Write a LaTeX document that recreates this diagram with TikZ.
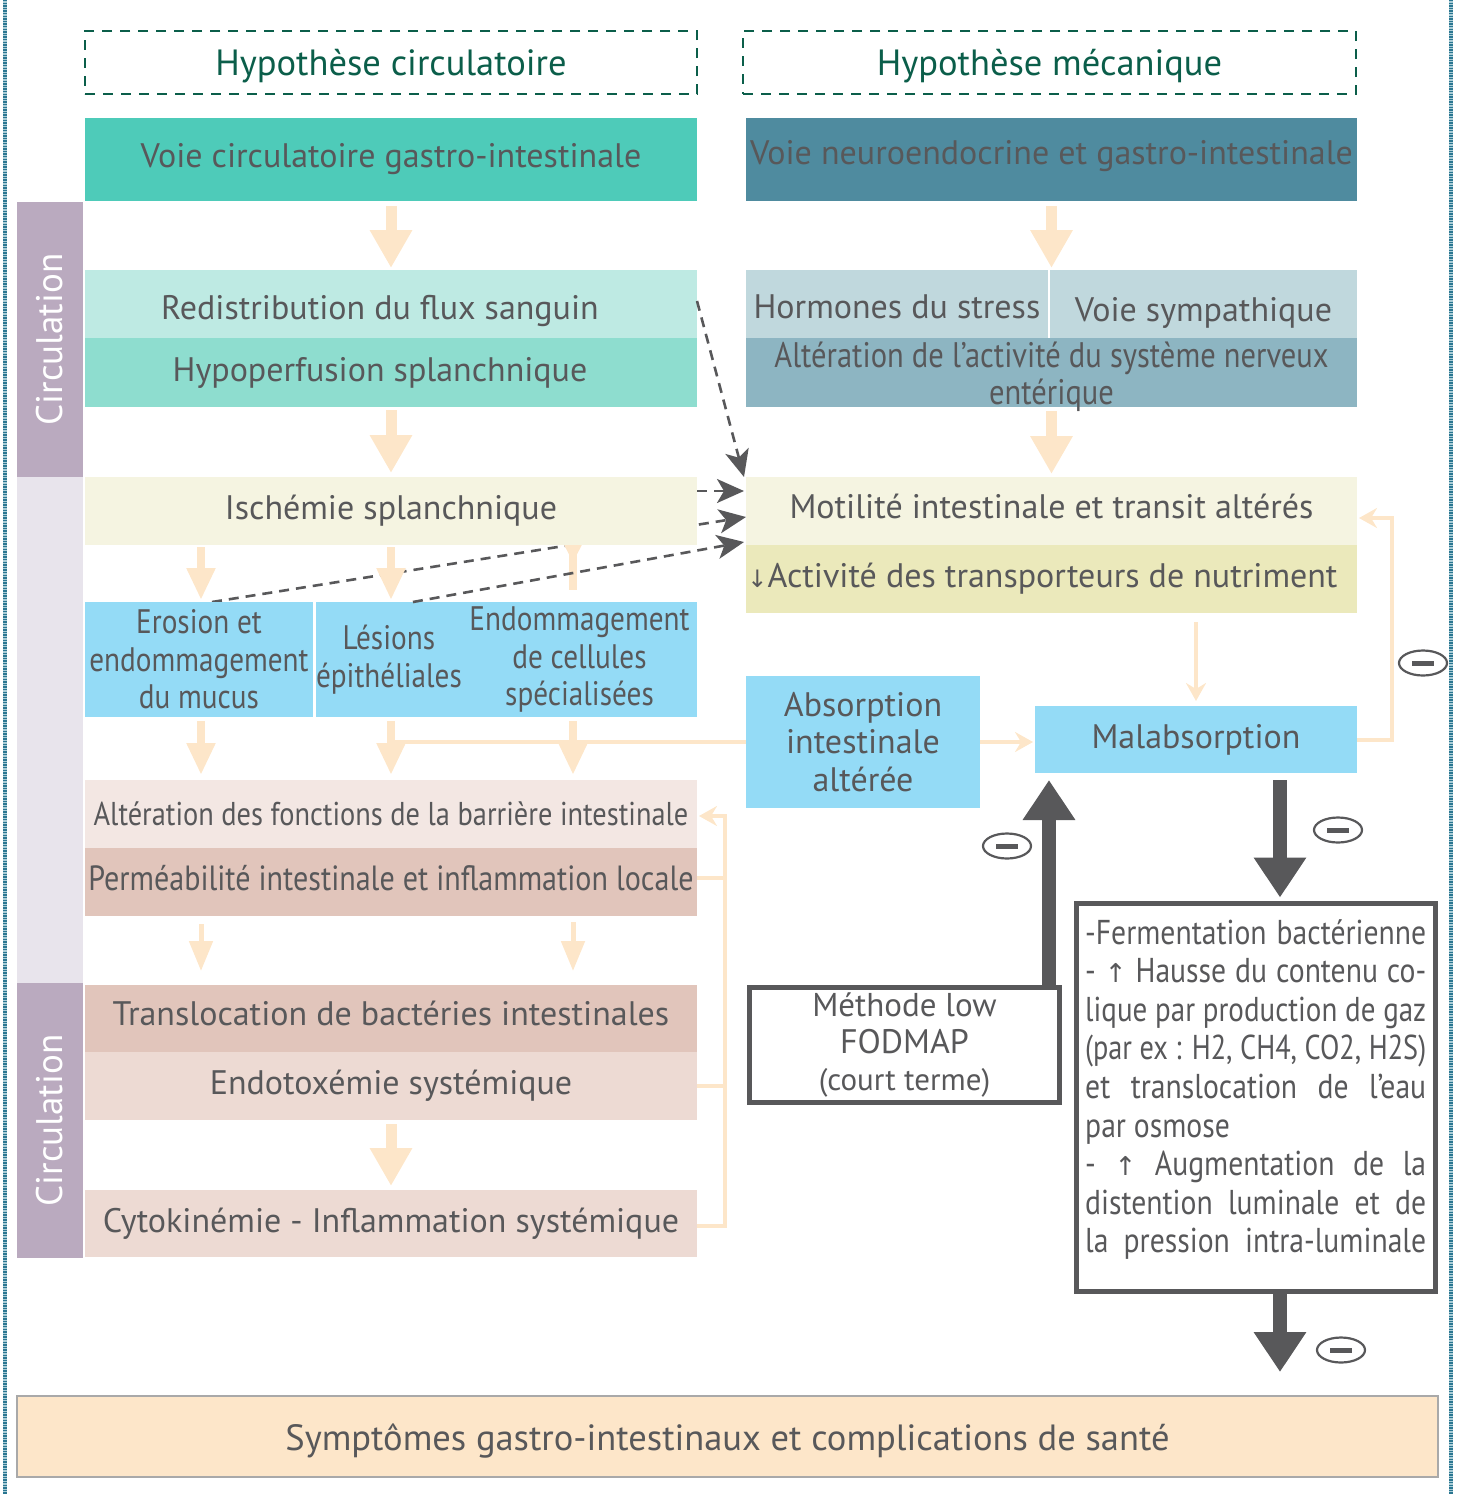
\documentclass[tikz,border=0pt]{standalone}
\usepackage{fontspec}
\setmainfont{PT Sans}
\newfontfamily\condf[FakeStretch=0.86]{PT Sans}
\newfontfamily\symf{DejaVu Sans}
\usetikzlibrary{arrows.meta,shapes.geometric,backgrounds,calc}
\definecolor{cTeal}{HTML}{4ECBB9}
\definecolor{cNavy}{HTML}{4F8B9F}
\definecolor{cRedis}{HTML}{BEEAE3}
\definecolor{cHypo}{HTML}{8EDDCF}
\definecolor{cHorm}{HTML}{C0D8DD}
\definecolor{cEns}{HTML}{8DB5C2}
\definecolor{cIsch}{HTML}{F5F4E1}
\definecolor{cAct}{HTML}{EBE9BB}
\definecolor{cBlue}{HTML}{94DBF6}
\definecolor{cBarr}{HTML}{F3E7E3}
\definecolor{cPerm}{HTML}{E1C5BB}
\definecolor{cEndo}{HTML}{EDDAD3}
\definecolor{cPeach}{HTML}{FDE6C9}
\definecolor{cSymB}{HTML}{A9A9A9}
\definecolor{cPurple}{HTML}{BAAABF}
\definecolor{cLav}{HTML}{E8E4EC}
\definecolor{cDark}{HTML}{58585A}
\definecolor{cGreen}{HTML}{0B5E4A}
\definecolor{cTxt}{HTML}{58585A}
\definecolor{cEdgeA}{HTML}{2A7691}
\definecolor{cEdgeB}{HTML}{A9CCD6}
\newsavebox\jlbox
\newcommand\jl[1]{\sbox\jlbox{#1}%
  \ifdim\wd\jlbox>341pt\relax
    \pgfmathsetmacro\jlsx{341pt/\the\wd\jlbox}\scalebox{\jlsx}[1]{\usebox\jlbox}%
  \else\makebox[341pt][s]{#1}\fi}
\newcommand\shft[2]{\raisebox{#1}[\height][\depth]{#2}}
\newcommand\upar{{\symf\fontsize{26}{26}\selectfont ↑}}
\newcommand\dnar{{\symf\fontsize{24}{24}\selectfont ↓}}
\begin{document}
\begin{tikzpicture}[x=1pt,y=-1pt,
  bx/.style={inner sep=0pt, outer sep=0pt, anchor=north west, align=center, text=cTxt,
     font=\fontsize{34}{37.5}\selectfont},
  cbx/.style={bx, font=\condf\fontsize{34}{37.5}\selectfont},
  hdr/.style={bx, draw=cGreen, dash pattern=on 10pt off 8pt, line width=2.5pt, text=cGreen,
     font=\fontsize{36.5}{40}\selectfont, minimum width=612pt, minimum height=63pt},
  side/.style={bx, minimum width=66pt, text=white, font=\fontsize{37}{40}\selectfont},
  pkbig/.style={draw=cPeach, line width=11pt, -{Triangle[width=40pt,length=38pt]}},
  pksm/.style={draw=cPeach, line width=8pt, -{Triangle[width=27pt,length=32pt]}},
  pkthin/.style={draw=cPeach, line width=5pt, -{Triangle[width=23pt,length=30pt]}},
  pkline/.style={draw=cPeach, line width=4pt},
  pkfb/.style={pkline, -{Stealth[width=20pt,length=18pt,inset=6pt]}},
  dkarrow/.style={draw=cDark, line width=14pt, -{Triangle[width=50pt,length=40pt]}},
  dkdash/.style={draw=cDark, line width=2.6pt, dash pattern=on 10pt off 7pt,
     -{Stealth[width=24pt,length=27pt,inset=7pt]}},
  minus/.style={ellipse, draw=cDark, line width=2.2pt, minimum width=48pt, minimum height=25pt,
     inner sep=0pt, path picture={\fill[cDark] ($(path picture bounding box.center)+(-11,-2.5)$) rectangle ++(22,5);}}
]
\path[use as bounding box] (0,0) rectangle (1459,1494);
% edge stripes
\foreach \xx in {5,1451}{
  \draw[cEdgeB, line width=4pt] (\xx,0) -- (\xx,1494);
  \draw[cEdgeA, line width=4pt, dash pattern=on 1.3pt off 1.3pt] (\xx,0) -- (\xx,1494);
}
% headers
\node[hdr] (h1) at (85,31) {\shft{-4pt}{Hypothèse circulatoire}};
\node[hdr, minimum width=613pt] (h2) at (743,31) {\shft{-4pt}{Hypothèse mécanique}};
% side bars
\node[side, fill=cPurple, minimum height=275pt] (s1) at (17,202) {\rotatebox{90}{Circulation}};
\node[side, fill=cLav, minimum height=506pt] (s2) at (17,477) {};
\node[side, fill=cPurple, minimum height=275pt] (s3) at (17,983) {\rotatebox{90}{Circulation}};
% left column
\node[bx, fill=cTeal, minimum width=612pt, minimum height=83pt] (vcg) at (85,118) {Voie circulatoire gastro-intestinale};
\node[bx, fill=cRedis, minimum width=612pt, minimum height=68pt] (redis) at (85,270) {\shft{-7pt}{Redistribution du flux sanguin}\hspace*{22pt}};
\node[bx, fill=cHypo, minimum width=612pt, minimum height=69pt] (hypo) at (85,338) {Hypoperfusion splanchnique\hspace*{22pt}};
\node[bx, fill=cIsch, minimum width=612pt, minimum height=68pt] (isch) at (85,477) {Ischémie splanchnique};
\node[cbx, fill=cBlue, minimum width=228pt, minimum height=115pt] (ero) at (85,602) {Erosion et\\endommagement\\du mucus};
\node[cbx, fill=cBlue, minimum width=144pt, minimum height=115pt] (les) at (316,602) {Lésions\\épithéliales};
\node[cbx, fill=cBlue, minimum width=235pt, minimum height=115pt] (endm) at (462,602) {Endommagement\\de cellules\\spécialisées};
\node[cbx, fill=cBarr, minimum width=612pt, minimum height=68pt, font=\condf\fontsize{33}{37}\selectfont] (barr) at (85,780) {Altération des fonctions de la barrière intestinale};
\node[cbx, fill=cPerm, minimum width=612pt, minimum height=68pt, font=\condf\fontsize{35}{37}\selectfont] (perm) at (85,848) {\shft{4pt}{Perméabilité intestinale et inflammation locale}};
\node[bx, fill=cPerm, minimum width=612pt, minimum height=67pt] (trans) at (85,985) {\shft{5pt}{Translocation de bactéries intestinales}};
\node[bx, fill=cEndo, minimum width=612pt, minimum height=68pt] (endo) at (85,1052) {Endotoxémie systémique};
\node[bx, fill=cEndo, minimum width=612pt, minimum height=67pt] (cyto) at (85,1190) {Cytokinémie - Inflammation systémique};
% right column
\node[bx, fill=cNavy, minimum width=611pt, minimum height=83pt] (vne) at (746,118) {\shft{3pt}{Voie neuroendocrine et gastro-intestinale}};
\node[bx, fill=cHorm, minimum width=302pt, minimum height=68pt] (horm) at (746,270) {\shft{-3pt}{Hormones du stress}};
\node[bx, fill=cHorm, minimum width=307pt, minimum height=68pt] (vsym) at (1050,270) {\shft{-9pt}{Voie sympathique}};
\node[cbx, fill=cEns, minimum width=611pt, minimum height=69pt, font=\condf\fontsize{35.5}{37}\selectfont] (ens) at (746,338) {\raisebox{-12pt}[30pt][30pt]{\begin{tabular}{@{}c@{}}Altération de l’activité du système nerveux\\entérique\end{tabular}}};
\node[bx, fill=cIsch, minimum width=611pt, minimum height=68pt] (mot) at (746,477) {\shft{5pt}{Motilité intestinale et transit altérés}};
\node[bx, fill=cAct, minimum width=611pt, minimum height=68pt] (act) at (746,545) {\dnar Activité des transporteurs de nutriment\hspace*{18pt}};
\node[bx, fill=cBlue, minimum width=234pt, minimum height=132pt] (abs) at (746,676) {Absorption\\intestinale\\altérée};
\node[bx, fill=cBlue, minimum width=322pt, minimum height=67pt] (mal) at (1035,706) {Malabsorption};
\node[bx, draw=cDark, line width=5pt, fill=white, minimum width=310pt, minimum height=115pt, font=\fontsize{33}{37}\selectfont] (fod) at (749.5,987.5) {Méthode low\\{\fontsize{34}{37}\selectfont FODMAP}\\{\fontsize{31}{37}\selectfont (court terme)}};
\node[bx, draw=cDark, line width=5pt, fill=white, minimum width=359pt, minimum height=388pt] (ferm) at (1076.5,903.5) {};
\node[inner sep=0pt, anchor=north west, align=left, text=cTxt, font=\condf\fontsize{34.5}{38.6}\selectfont] (fermtxt) at (1085,919) {%
\jl{-Fermentation bactérienne}\\
\jl{- \upar{} Hausse du contenu co-}\\
\jl{lique par production de gaz}\\
\jl{(par ex : H2, CH4, CO2, H2S)}\\
\jl{et translocation de l’eau}\\
par osmose\\
\jl{- \upar{} Augmentation de la}\\
\jl{distention luminale et de}\\
\jl{la pression intra-luminale}};
% bottom
\node[bx, fill=cPeach, draw=cSymB, line width=2pt, minimum width=1421pt, minimum height=81pt, font=\fontsize{36.5}{40}\selectfont] (sym) at (17,1396) {\shft{-4pt}{Symptômes gastro-intestinaux et complications de santé}};
% coordinates
\coordinate (xa) at (1280,0);
\coordinate (xb) at (1049,0);
\coordinate (xc) at (573,0);
\coordinate (xd) at (201,0);
\coordinate (xe) at (391,0);
% background connectors (partly hidden under boxes)
\begin{pgfonlayer}{background}
\draw[dkdash] ([xshift=13pt]ero.north) -- ([yshift=-6pt]mot.west);
\fill[cPeach] ($(isch.south -| xc)+(-4,0)$) rectangle ($(ero.north -| xc)+(4,-12)$);
\fill[cPeach] ($(isch.south -| xc)+(-13,-8)$) -- ($(isch.south -| xc)+(13,-8)$) -- ($(isch.south -| xc)+(0,17)$) -- cycle;
\end{pgfonlayer}
% dashed dark arrows
\draw[dkdash] ([yshift=3pt]redis.east) -- ([xshift=-2pt]mot.north west);
\draw[dkdash] ([yshift=20pt]isch.east) -- ([yshift=20pt,xshift=-2pt]mot.west);
\draw[dkdash] ([xshift=24pt]les.north) -- ([xshift=-2pt,yshift=3pt]mot.south west);
% peach big arrows
\draw[pkbig, shorten <=5pt, shorten >=2pt] (vcg.south -| xe) -- (redis.north -| xe);
\draw[pkbig, shorten <=3pt, shorten >=4pt] (hypo.south -| xe) -- (isch.north -| xe);
\draw[pkbig, shorten <=5pt, shorten >=2pt] (vne.south) -- (vne.south |- horm.north);
\draw[pkbig, shorten <=4pt, shorten >=3pt] (ens.south) -- (ens.south |- mot.north);
\draw[pkbig, shorten <=4pt, shorten >=4pt] (endo.south -| xe) -- (cyto.north -| xe);
% peach small arrows
\draw[pksm, shorten <=2pt, shorten >=2pt] (isch.south -| xd) -- (ero.north -| xd);
\draw[pksm, shorten <=2pt, shorten >=2pt] (isch.south -| xe) -- (les.north -| xe);
\draw[pksm, shorten <=4pt, shorten >=5pt] (ero.south -| xd) -- (barr.north -| xd);
\draw[pksm, shorten <=4pt, shorten >=5pt] (les.south -| xe) -- (barr.north -| xe);
\draw[pksm, shorten <=4pt, shorten >=5pt] (endm.south -| xc) -- (barr.north -| xc);
\draw[pkline] (abs.west) -- (abs.west -| xe);
\draw[pkthin, shorten <=8pt, shorten >=14pt] (perm.south -| xd) -- (trans.north -| xd);
\draw[pkthin, shorten <=6pt, shorten >=14pt] (perm.south -| xc) -- (trans.north -| xc);
% peach feedback lines
\draw[pkfb, shorten >=2pt] (abs.east) -- (mal.west |- abs.east);
\draw[pkfb, shorten <=9pt, shorten >=5pt] (act.south -| mal.north) -- (mal.north);
\draw[pkfb, shorten >=2pt] (mal.east) -- ++(35,0) |- ([yshift=-7pt]mot.east);
\draw[pkfb, shorten >=2pt] ([yshift=-2pt]cyto.east) -- ++(28,0) |- ([yshift=-2pt]barr.east);
\draw[pkline] ([yshift=4pt]perm.east) -- ++(28,0);
\draw[pkline] ([yshift=0pt]endo.east) -- ++(28,0);
% dark thick arrows
\draw[dkarrow, shorten <=7pt, shorten >=6pt] (mal.south -| xa) -- (ferm.north -| xa);
\draw[dkarrow, shorten <=2pt, shorten >=7pt] (fod.north -| xb) -- (mal.south -| xb);
\draw[dkarrow, shorten <=2pt, shorten >=24pt] (ferm.south -| xa) -- (sym.north -| xa);
% minus signs
\node[minus] (m1) at (1423,663) {};
\node[minus] (m2) at (1338,830) {};
\node[minus] (m3) at (1007,846) {};
\node[minus] (m4) at (1341,1350) {};
\end{tikzpicture}
\end{document}
